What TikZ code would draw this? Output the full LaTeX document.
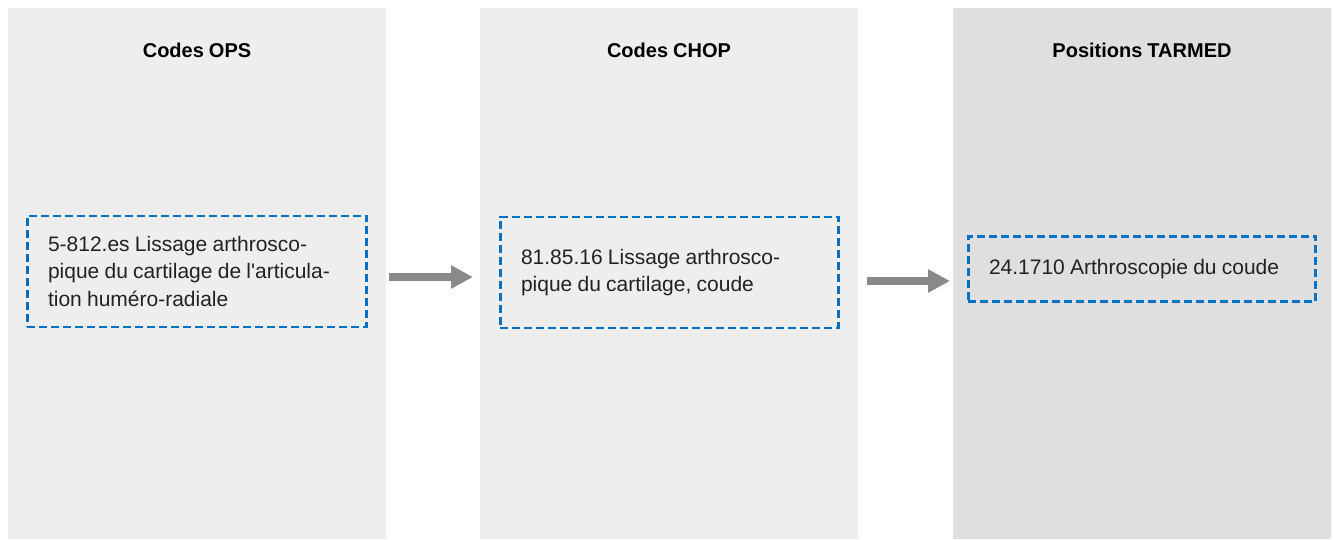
\documentclass[tikz,border=0pt]{standalone}
\usepackage{fontspec}
\setmainfont[WordSpace=0.9]{Liberation Sans}
\usetikzlibrary{arrows.meta}
\definecolor{panelA}{HTML}{EEEEEE}
\definecolor{panelB}{HTML}{DFDFDF}
\definecolor{dashblue}{HTML}{0070C0}
\definecolor{arrowgray}{HTML}{898989}
\definecolor{txt}{HTML}{222222}
\tikzset{
  panel/.style={rectangle, anchor=north west, inner sep=0pt, minimum width=378pt, minimum height=531pt},
  title/.style={anchor=base, inner sep=0pt, font=\bfseries\fontsize{20}{24}\selectfont, text=black},
  codebox/.style={rectangle, draw=dashblue, line width=2.6pt, dash pattern=on 8pt off 4pt,
    inner xsep=20.7pt, inner ysep=0pt, align=flush left, text=txt,
    font=\fontsize{21}{27.5}\selectfont},
  flow/.style={draw=arrowgray, line width=8pt, -{Triangle[length=22pt, width=22pt]}}
}
\begin{document}
\begin{tikzpicture}[x=1pt, y=-1pt]
\useasboundingbox (0,0) rectangle (1333,539);
\fill[white] (0,0) rectangle (1333,539);
% panels
\node[panel, fill=panelA] (p1) at (8,8) {};
\node[panel, fill=panelA] (p2) at (480,8) {};
\node[panel, fill=panelB] (p3) at (953,8) {};
% titles
\node[title] (t1) at (197,57) {Codes OPS};
\node[title] (t2) at (669,57) {Codes CHOP};
\node[title] (t3) at (1142,57) {Positions TARMED};
% boxes
\node[codebox, text width=298pt, minimum height=111pt] (b1) at (197,271.3)
  {5-812.es Lissage arthrosco-\\pique du cartilage de l\textquotesingle articula-\\tion huméro-radiale};
\node[codebox, text width=297pt, minimum height=111pt] (b2) at (669.5,272.5)
  {81.85.16 Lissage arthrosco-\\pique du cartilage, coude};
\node[codebox, text width=306pt, minimum height=65.4pt] (b3) at (1142,269)
  {24.1710 Arthroscopie du coude};
% arrows
\coordinate (a1s) at (389,277);
\coordinate (a1e) at (473,277);
\coordinate (a2s) at (867,281);
\coordinate (a2e) at (950,281);
\draw[flow] (a1s) -- (a1e);
\draw[flow] (a2s) -- (a2e);
\end{tikzpicture}
\end{document}
